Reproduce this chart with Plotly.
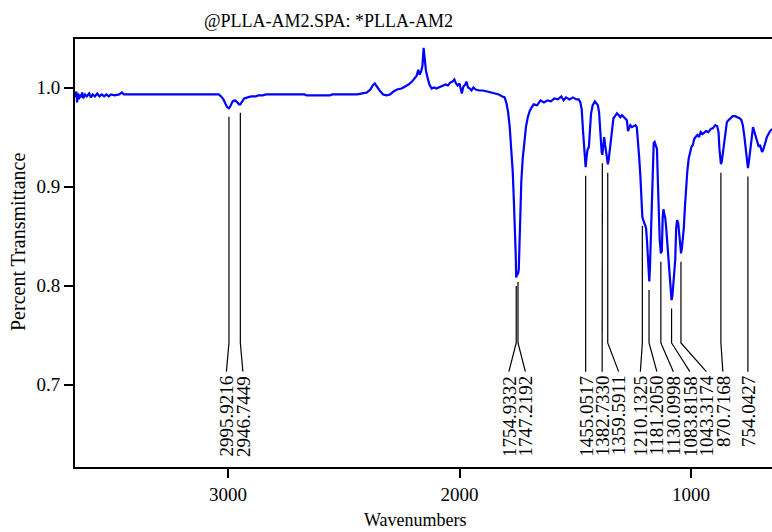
import plotly.graph_objects as go

# ---------------- data ----------------
wavenumber = [
    3660, 3655, 3652, 3648, 3644, 3640, 3635, 3630, 3625, 3618, 3610, 3600, 3592, 3585,
    3575, 3565, 3555, 3545, 3535, 3525, 3515, 3505, 3490, 3470, 3458, 3450, 3400, 3300,
    3200, 3100, 3040, 3030, 3020, 3010, 3003, 2996, 2990, 2980, 2970, 2960, 2952, 2947,
    2940, 2930, 2915, 2900, 2880, 2870, 2850, 2835, 2700, 2670, 2660, 2600, 2560, 2550,
    2500, 2440, 2420, 2400, 2385, 2375, 2366, 2355, 2345, 2330, 2315, 2300, 2285, 2270,
    2250, 2235, 2220, 2205, 2195, 2185, 2178, 2172, 2166, 2160, 2155, 2150, 2145, 2138,
    2130, 2120, 2110, 2100, 2090, 2080, 2070, 2060, 2050, 2040, 2030, 2022, 2015, 2008,
    2000, 1995, 1990, 1983, 1975, 1970, 1963, 1955, 1948, 1940, 1930, 1915, 1900, 1880,
    1860, 1850, 1830, 1815, 1805, 1797, 1790, 1783, 1776, 1770, 1765, 1761, 1757, 1755,
    1751, 1747, 1744, 1741, 1738, 1733, 1727, 1720, 1713, 1705, 1697, 1688, 1680, 1665,
    1650, 1635, 1620, 1605, 1590, 1575, 1560, 1550, 1540, 1525, 1510, 1495, 1485, 1478,
    1472, 1466, 1461, 1455, 1451, 1447, 1441, 1436, 1432, 1425, 1415, 1408, 1402, 1397,
    1393, 1389, 1386, 1383, 1379, 1375, 1371, 1367, 1363, 1359, 1355, 1350, 1345, 1340,
    1335, 1328, 1320, 1312, 1305, 1298, 1290, 1283, 1277, 1272, 1267, 1262, 1255, 1248,
    1240, 1234, 1229, 1224, 1219, 1214, 1210, 1206, 1200, 1194, 1190, 1186, 1182, 1180,
    1177, 1173, 1169, 1165, 1161, 1157, 1152, 1147, 1143, 1139, 1135, 1130, 1126, 1122,
    1119, 1115, 1111, 1107, 1102, 1097, 1092, 1087, 1084, 1080, 1076, 1072, 1068, 1064,
    1060, 1055, 1050, 1046, 1043, 1039, 1035, 1031, 1026, 1021, 1016, 1010, 1004, 998,
    992, 986, 980, 972, 965, 958, 950, 942, 935, 925, 915, 905, 895, 887,
    881, 877, 873, 870.7, 867, 862, 857, 851, 845, 838, 830, 820, 810, 800,
    790, 782, 776, 770, 765, 760, 754, 750, 745, 741, 737, 732, 727, 722,
    717, 712, 707, 702, 697, 693, 688, 683, 678, 672, 665, 658, 650,
]
transmittance = [
    0.990, 0.996, 0.985, 0.994, 0.988, 0.993, 0.990, 0.995, 0.989, 0.993, 0.991, 0.994, 0.990, 0.993,
    0.991, 0.994, 0.991, 0.993, 0.991, 0.993, 0.991, 0.993, 0.992, 0.993, 0.995, 0.993, 0.993, 0.993,
    0.993, 0.993, 0.993, 0.991, 0.988, 0.983, 0.980, 0.979, 0.981, 0.986, 0.987, 0.985, 0.983, 0.983,
    0.985, 0.989, 0.990, 0.991, 0.991, 0.992, 0.992, 0.993, 0.993, 0.993, 0.992, 0.992, 0.992, 0.993,
    0.993, 0.993, 0.994, 0.995, 0.998, 1.002, 1.004, 1.000, 0.997, 0.993, 0.992, 0.993, 0.996, 0.998,
    0.999, 1.001, 1.003, 1.006, 1.009, 1.012, 1.018, 1.013, 1.016, 1.022, 1.040, 1.025, 1.017, 1.010,
    1.003, 0.999, 1.000, 0.999, 1.000, 1.001, 1.002, 1.003, 1.002, 1.005, 1.006, 1.008, 1.004, 1.002,
    1.004, 0.997, 0.994, 1.001, 1.003, 1.006, 1.000, 0.999, 0.997, 1.000, 0.998, 0.997, 0.997, 0.996,
    0.995, 0.994, 0.993, 0.991, 0.990, 0.984, 0.975, 0.960, 0.940, 0.915, 0.885, 0.863, 0.830, 0.808,
    0.812, 0.812, 0.816, 0.840, 0.866, 0.905, 0.928, 0.945, 0.960, 0.970, 0.976, 0.980, 0.983, 0.982,
    0.987, 0.985, 0.987, 0.986, 0.989, 0.988, 0.991, 0.987, 0.990, 0.988, 0.990, 0.988, 0.988, 0.985,
    0.978, 0.955, 0.935, 0.9195, 0.930, 0.937, 0.940, 0.955, 0.973, 0.982, 0.986, 0.984, 0.982, 0.975,
    0.955, 0.945, 0.935, 0.932, 0.947, 0.950, 0.942, 0.936, 0.931, 0.9225, 0.928, 0.940, 0.950, 0.962,
    0.969, 0.971, 0.974, 0.972, 0.970, 0.972, 0.970, 0.968, 0.967, 0.956, 0.960, 0.962, 0.960, 0.961,
    0.962, 0.960, 0.947, 0.930, 0.912, 0.880, 0.869, 0.866, 0.862, 0.858, 0.845, 0.828, 0.805, 0.804,
    0.820, 0.853, 0.890, 0.925, 0.944, 0.945, 0.940, 0.938, 0.905, 0.870, 0.846, 0.8325, 0.835, 0.870,
    0.877, 0.872, 0.868, 0.858, 0.840, 0.825, 0.808, 0.792, 0.7853, 0.790, 0.800, 0.808, 0.826, 0.858,
    0.866, 0.863, 0.852, 0.840, 0.8325, 0.838, 0.848, 0.858, 0.880, 0.900, 0.915, 0.928, 0.933, 0.940,
    0.942, 0.948, 0.950, 0.952, 0.950, 0.955, 0.953, 0.955, 0.956, 0.955, 0.958, 0.959, 0.962, 0.961,
    0.955, 0.938, 0.928, 0.9225, 0.925, 0.935, 0.946, 0.958, 0.965, 0.967, 0.969, 0.971, 0.971, 0.970,
    0.969, 0.967, 0.962, 0.952, 0.940, 0.930, 0.9185, 0.925, 0.935, 0.945, 0.955, 0.960, 0.956, 0.953,
    0.948, 0.944, 0.940, 0.942, 0.938, 0.935, 0.937, 0.940, 0.945, 0.950, 0.954, 0.956, 0.958,
]

peak_wn = [2995.9216, 2946.7449, 1754.9332, 1747.2192, 1455.0517, 1382.7330, 1359.5911,
           1210.1325, 1181.2050, 1130.0998, 1083.8158, 1043.3174, 870.7168, 754.0427]
peak_T = [0.979, 0.983, 0.808, 0.812, 0.9195, 0.932, 0.9225,
          0.869, 0.804, 0.8325, 0.7853, 0.8325, 0.9225, 0.9185]

x_ticks = [3000, 2000, 1000]
y_ticks = [0.7, 0.8, 0.9, 1.0]
y_ticktext = ["0.7", "0.8", "0.9", "1.0"]

title_text = "@PLLA-AM2.SPA: *PLLA-AM2"
x_title = "Wavenumbers"
y_title = "Percent Transmittance"

# ---------------- layout geometry ----------------
W, H = 772, 532
ML, MR, MT, MB = 75, 0, 39, 65
X_RANGE = [3661, 650]
Y_RANGE = [0.6167, 1.049]
plot_w = W - ML - MR
plot_h = H - MT - MB
px_per_wn = plot_w / (X_RANGE[0] - X_RANGE[1])

def wn_to_px(w):
    return ML + (X_RANGE[0] - w) * px_per_wn

def px_to_wn(p):
    return X_RANGE[0] - (p - ML) / px_per_wn

# spread labels so they do not overlap
GAP = 16.5
peak_px = [wn_to_px(w) for w in peak_wn]
label_px = []
clusters = []
for i, p in enumerate(peak_px):
    if label_px and p < label_px[-1] + GAP:
        label_px.append(label_px[-1] + GAP)
        clusters[-1].append(i)
    else:
        label_px.append(p)
        clusters.append([i])
for ci, c in enumerate(clusters):
    if len(c) > 1:
        over = label_px[c[-1]] - peak_px[c[-1]]
        shift = over / 2
        if ci > 0:
            prev_last = clusters[ci - 1][-1]
            shift = min(shift, label_px[c[0]] - (label_px[prev_last] + GAP))
        shift = max(shift, 0)
        for i in c:
            label_px[i] -= shift
label_wn = [px_to_wn(p) for p in label_px]

LINE_GAP = 0.0085
T_BEND = 0.742
T_LABEL = 0.713

lx, ly = [], []
for w, t, lw in zip(peak_wn, peak_T, label_wn):
    lx += [w, w, lw, None]
    ly += [t - LINE_GAP, T_BEND, T_LABEL, None]

fig = go.Figure()
fig.add_trace(go.Scatter(x=lx, y=ly, mode="lines",
                         line=dict(color="black", width=1.2),
                         hoverinfo="skip", showlegend=False))
fig.add_trace(go.Scatter(x=wavenumber, y=transmittance, mode="lines",
                         line=dict(color="#0000FF", width=2.2),
                         showlegend=False))

FONT = "Liberation Serif"
for w, lw in zip(peak_wn, label_wn):
    fig.add_annotation(x=lw, y=T_LABEL - 0.003, xref="x", yref="y",
                       text=f"{w:.4f}", textangle=-90, showarrow=False,
                       xanchor="center", yanchor="top",
                       font=dict(family=FONT, size=19, color="black"),
                       borderpad=0)

fig.add_annotation(x=(415 - ML) / plot_w, y=1 - (520 - MT) / plot_h,
                   xref="paper", yref="paper",
                   text=x_title, showarrow=False, xanchor="center", yanchor="middle",
                   font=dict(family=FONT, size=18, color="black"))
fig.add_annotation(x=(18 - ML) / plot_w, y=1 - (242 - MT) / plot_h,
                   xref="paper", yref="paper",
                   text=y_title, showarrow=False, textangle=-90,
                   xanchor="center", yanchor="middle",
                   font=dict(family=FONT, size=20, color="black"))

fig.update_layout(
    width=W, height=H,
    margin=dict(l=ML, r=MR, t=MT, b=MB),
    paper_bgcolor="white", plot_bgcolor="white",
    font=dict(family=FONT, color="black"),
    title=dict(text=title_text, x=328.5 / W, xref="container", xanchor="center",
               y=1 - 21 / H, yref="container", yanchor="middle",
               font=dict(family=FONT, size=18, color="black")),
    showlegend=False,
)
fig.update_xaxes(range=X_RANGE, showgrid=False, zeroline=False,
                 showline=True, linecolor="black", linewidth=2, mirror=True,
                 ticks="outside", ticklen=9, tickwidth=2, tickcolor="black",
                 tickvals=x_ticks, ticktext=[str(v) for v in x_ticks],
                 tickfont=dict(family=FONT, size=19, color="black"))
fig.update_yaxes(range=Y_RANGE, showgrid=False, zeroline=False,
                 showline=True, linecolor="black", linewidth=2, mirror=False,
                 ticks="outside", ticklen=9, tickwidth=2, tickcolor="black",
                 tickvals=y_ticks, ticktext=y_ticktext,
                 tickfont=dict(family=FONT, size=19, color="black"))

fig.write_html("out.html")
